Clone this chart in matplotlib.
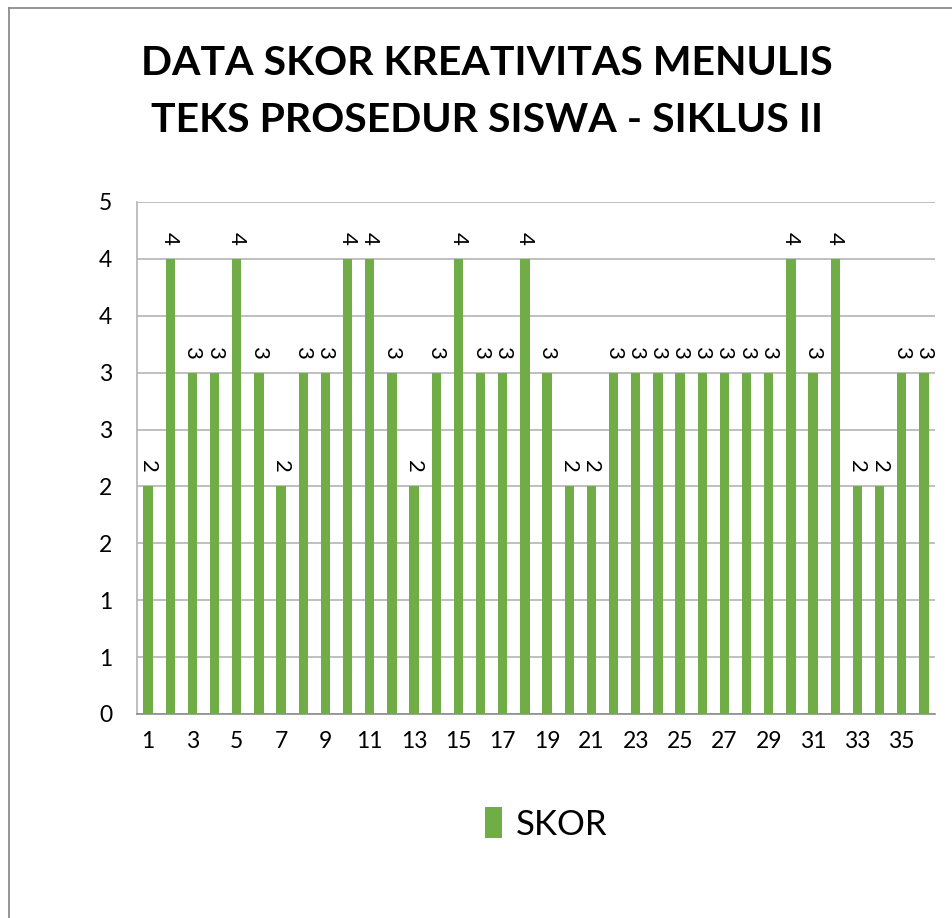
import numpy as np
import matplotlib
matplotlib.use("Agg")
import matplotlib.pyplot as plt
from matplotlib.lines import Line2D

plt.rcParams['font.family'] = ['Lato', 'DejaVu Sans']

students = list(range(1, 37))
skor = [2, 4, 3, 3, 4, 3, 2, 3, 3, 4,
        4, 3, 2, 3, 4, 3, 3, 4, 3, 2,
        2, 3, 3, 3, 3, 3, 3, 3, 3, 4,
        3, 4, 2, 2, 3, 3]
x_labels = [str(n) for n in students[::2]]
y_ticks = np.arange(0, 4.51, 0.5)
title = "DATA SKOR KREATIVITAS MENULIS\nTEKS PROSEDUR SISWA - SIKLUS II"
series_name = "SKOR"

bar_color = "#70AD47"
grid_color = "#B4B4B4"

fig = plt.figure(figsize=(9.52, 9.18), dpi=100)
ax = fig.add_axes([137/952, 1-714/918, (935-137)/952, (714-202)/918])

bars = ax.bar(students, skor, width=0.42, color=bar_color, label=series_name, zorder=3)
ax.set_xlim(0.5, 36.5)
ax.set_ylim(0, 4.5)
ax.set_yticks(y_ticks)
ax.set_yticklabels([str(int(np.floor(t + 0.5))) for t in y_ticks])
ax.set_xticks(students[::2])
ax.set_xticklabels(x_labels)
ax.tick_params(axis='both', length=0, labelsize=16.5, colors='black')
ax.tick_params(axis='y', pad=18)
ax.tick_params(axis='x', pad=12)
ax.grid(axis='y', color=grid_color, linewidth=1.2, zorder=0)
for s in ['top', 'right']:
    ax.spines[s].set_visible(False)
ax.spines['left'].set_color(grid_color)
ax.spines['left'].set_linewidth(1.2)
ax.spines['bottom'].set_color('#8C8C8C')
ax.spines['bottom'].set_linewidth(1.2)

ax.bar_label(bars, labels=[str(v) for v in skor], rotation=-90, padding=10,
             fontsize=16, color='black')

fig.text(487/952, 1-92/918, title, ha='center', va='center', fontsize=29.5,
         fontweight='bold', linespacing=1.65)

leg = fig.legend(handles=[bars], labels=[series_name], loc='center',
                 bbox_to_anchor=(546/952, 1-824/918), frameon=False,
                 fontsize=25, handlelength=0.5, handleheight=1.0, handletextpad=0.4)

fig.add_artist(Line2D([9/952, 9/952], [0, 1-8/918], color='#8C8C8C', linewidth=1.3,
                      transform=fig.transFigure))
fig.add_artist(Line2D([9/952, 1], [1-8/918, 1-8/918], color='#8C8C8C', linewidth=1.3,
                      transform=fig.transFigure))

fig.savefig("out.png", dpi=100, facecolor='white')
